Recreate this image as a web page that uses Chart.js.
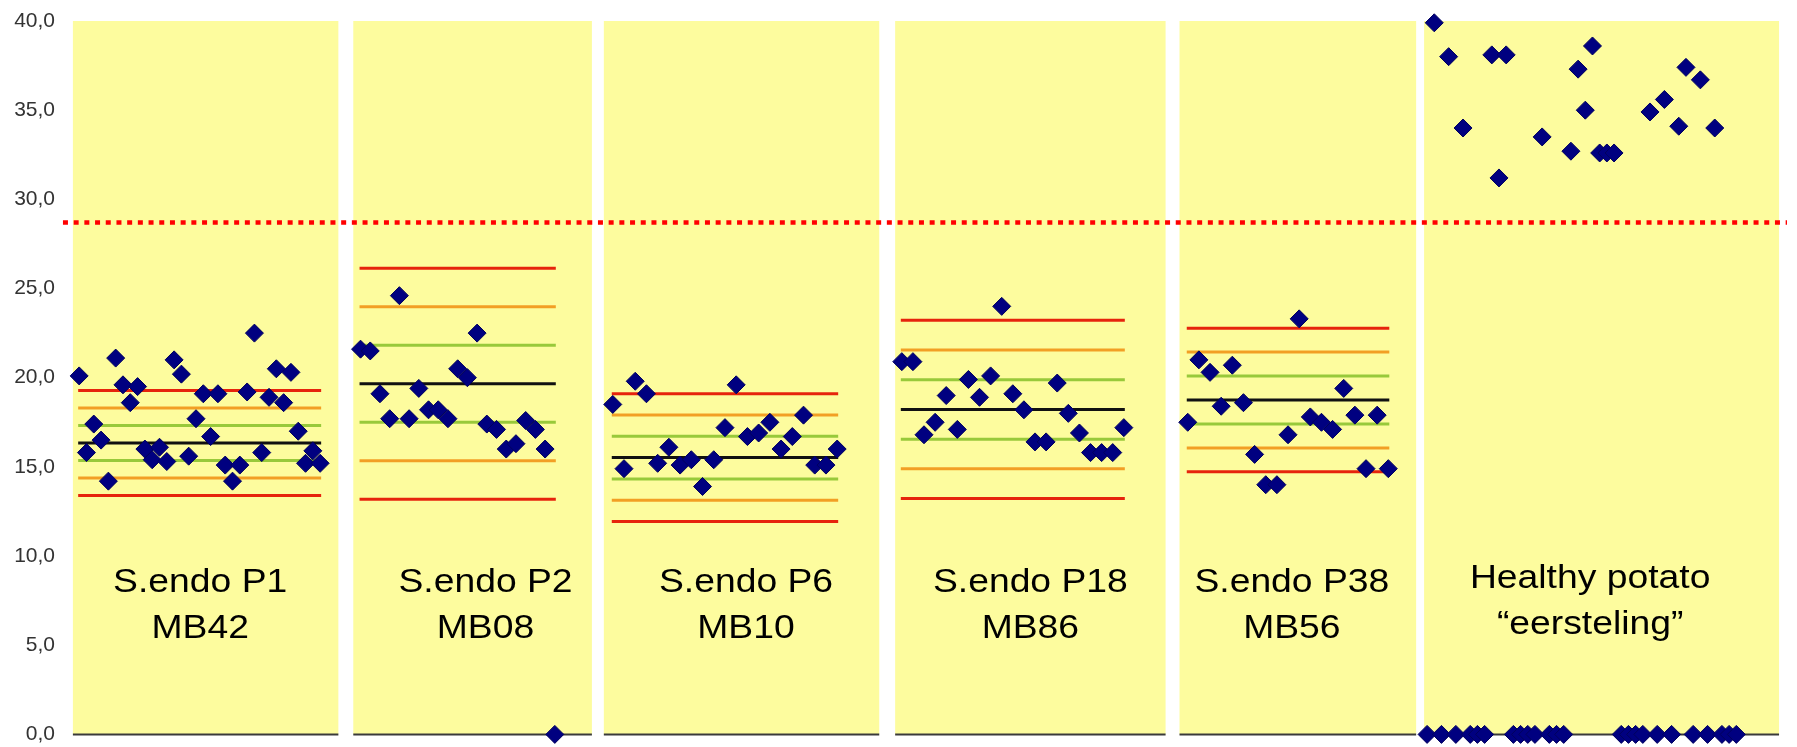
<!DOCTYPE html>
<html lang="en">
<head>
<meta charset="UTF-8">
<title>Ct values per isolate</title>
<script src="https://cdn.jsdelivr.net/npm/chart.js"></script>
<style>
  html, body { margin: 0; padding: 0; background: #fff; }
  canvas { display: block; }
</style>
</head>
<body>
<canvas id="ctChart" width="1797" height="747"></canvas>
<script>
// Panel titles (two lines each)
const panelLabels = [
    ['S.endo P1', 'MB42'],
    ['S.endo P2', 'MB08'],
    ['S.endo P6', 'MB10'],
    ['S.endo P18', 'MB86'],
    ['S.endo P38', 'MB56'],
    ['Healthy potato', '\u201Ceersteling\u201D']
];

// Ct values per sample
const p1Values = [20.1, 15.8, 17.4, 16.5, 14.2, 21.1, 19.6, 18.6, 19.5, 16.0, 15.4, 16.1, 15.3, 21.0, 20.2, 15.6,
                  17.7, 19.1, 16.7, 19.1, 15.1, 14.2, 15.1, 19.2, 22.5, 15.8, 18.9, 20.5, 18.6, 20.3, 17.0, 15.2, 15.9, 15.2];
const p2Values = [21.6, 21.5, 19.1, 17.7, 24.6, 17.7, 19.4, 18.2, 18.2, 17.7, 20.5, 20.0, 22.5, 17.4, 17.1, 16.0,
                  16.3, 17.6, 17.1, 16.0, 0];
const p6Values = [18.5, 14.9, 19.8, 19.1, 15.2, 16.1, 15.1, 15.4, 13.9, 15.4, 17.2, 19.6, 16.7, 16.9, 17.5, 16.0,
                  16.7, 17.9, 15.1, 15.1, 16.0];
const p18Values = [20.9, 20.9, 16.8, 17.5, 19.0, 17.1, 19.9, 18.9, 20.1, 24.0, 19.1, 18.2, 16.4, 16.4, 19.7, 18.0,
                   16.9, 15.8, 15.8, 15.8, 17.2];
const p38Values = [17.5, 21.0, 20.3, 18.4, 20.7, 18.6, 15.7, 14.0, 14.0, 16.8, 23.3, 17.8, 17.5, 17.1, 19.4, 17.9,
                   14.9, 17.9, 14.9];
// 0 = no amplification
const healthyValues = [0, 39.9, 0, 38.0, 0, 34.0, 0, 0, 0, 38.1, 31.2, 38.1, 0, 0, 0, 0, 33.5, 0, 0, 0,
                       32.7, 37.3, 35.0, 38.6, 32.6, 32.6, 32.6, 0, 0, 0, 0, 34.9, 0, 35.6, 0, 34.1, 37.4, 0, 36.7, 0,
                       34.0, 0, 0, 0];

// control lines: mean and standard deviation per isolate
const controlMean = [16.34, 19.66, 15.52, 18.22, 18.75];
const controlSD = [0.98, 2.16, 1.195, 1.665, 1.343];

const cutoff = 28.7;
const yTicks = [0, 5, 10, 15, 20, 25, 30, 35, 40];

const valueSets = [p1Values, p2Values, p6Values, p18Values, p38Values, healthyValues];

// layout of the panels along the (hidden) x axis
const panelLayout = [
    { left: 73, right: 340, first: 79.3, step: 7.345, textX: 201, textY: [8.0, 5.43] },
    { left: 355, right: 595, first: 362.3, step: 9.77, textX: 488, textY: [8.0, 5.43] },
    { left: 607, right: 884, first: 616, step: 11.285, textX: 750, textY: [8.0, 5.43] },
    { left: 900, right: 1172, first: 906.7, step: 11.165, textX: 1036, textY: [8.0, 5.43] },
    { left: 1186, right: 1424, first: 1194.3, step: 11.206, textX: 1299, textY: [8.0, 5.43] },
    { left: 1432, right: 1789, first: 1435, step: 7.233, textX: 1599, textY: [8.2, 5.62] }
];

const lineColors = { 3: '#e6240c', 2: '#f29f24', 1: '#98c93a', 0: '#111111' };

const datasets = [];

valueSets.forEach((vals, p) => {
    const lay = panelLayout[p];
    datasets.push({
        label: panelLabels[p].join(' '),
        data: vals.map((v, i) => ({ x: lay.first + i * lay.step, y: v })),
        pointStyle: 'rectRot',
        pointRadius: 9,
        backgroundColor: '#000080',
        borderColor: '#00005e',
        borderWidth: 1,
        showLine: false,
        clip: false,
        order: 0
    });
    // zero line under each panel
    datasets.push({
        data: [{ x: lay.left, y: 0 }, { x: lay.right, y: 0 }],
        showLine: true,
        borderColor: '#3a3a3a',
        borderWidth: 2,
        pointRadius: 0,
        clip: false,
        order: 3
    });
});

// mean, +-1, +-2, +-3 SD lines
controlMean.forEach((m, p) => {
    const lay = panelLayout[p];
    const x0 = lay.first - 1;
    const x1 = lay.first + (valueSets[p].length - 1) * lay.step + 1;
    [-3, -2, -1, 0, 1, 2, 3].forEach(k => {
        const y = m + k * controlSD[p];
        datasets.push({
            data: [{ x: x0, y: y }, { x: x1, y: y }],
            showLine: true,
            borderColor: lineColors[Math.abs(k)],
            borderWidth: 3,
            pointRadius: 0,
            clip: false,
            order: 2
        });
    });
});

// cut-off line
datasets.push({
    data: [{ x: 63, y: cutoff }, { x: 1797, y: cutoff }],
    showLine: true,
    borderColor: '#ff0000',
    borderWidth: 4.5,
    borderDash: [5, 5.7],
    borderCapStyle: 'butt',
    pointRadius: 0,
    clip: false,
    order: 1
});

// yellow panels and their titles
const panelPlugin = {
    id: 'panels',
    beforeDatasetsDraw(chart) {
        const ctx = chart.ctx;
        const xs = chart.scales.x;
        const ys = chart.scales.y;
        const top = ys.getPixelForValue(40);
        const bottom = ys.getPixelForValue(0);
        ctx.save();
        panelLayout.forEach((lay, p) => {
            const l = xs.getPixelForValue(lay.left);
            const r = xs.getPixelForValue(lay.right);
            ctx.fillStyle = '#fdfc9e';
            ctx.fillRect(l, top, r - l, bottom - top);

            ctx.fillStyle = '#000000';
            ctx.font = '33px "Liberation Sans", Arial, sans-serif';
            ctx.textAlign = 'center';
            ctx.textBaseline = 'alphabetic';
            panelLabels[p].forEach((txt, j) => {
                ctx.save();
                ctx.translate(xs.getPixelForValue(lay.textX), ys.getPixelForValue(lay.textY[j]));
                ctx.scale(1.13, 1);
                ctx.fillText(txt, 0, 0);
                ctx.restore();
            });
        });
        ctx.restore();
    }
};

new Chart(document.getElementById('ctChart').getContext('2d'), {
    type: 'scatter',
    data: { datasets: datasets },
    options: {
        responsive: false,
        animation: false,
        events: [],
        layout: { padding: { top: 21, bottom: 0, left: 0, right: 0 } },
        plugins: { legend: { display: false }, tooltip: { enabled: false } },
        scales: {
            x: {
                type: 'linear',
                display: false,
                min: 55,
                max: 1797
            },
            y: {
                min: 0,
                max: 40,
                afterFit(scale) { scale.width = 55; },
                afterBuildTicks(scale) { scale.ticks = yTicks.map(v => ({ value: v })); },
                grid: { display: false, drawTicks: false },
                border: { display: false },
                ticks: {
                    padding: 0,
                    color: '#333333',
                    font: { family: '"Liberation Sans", Arial, sans-serif', size: 21 },
                    callback: v => v.toFixed(1).replace('.', ',')
                }
            }
        }
    },
    plugins: [panelPlugin]
});
</script>
</body>
</html>
